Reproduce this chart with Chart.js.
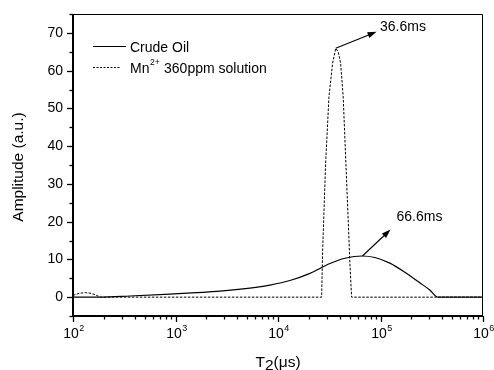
<!DOCTYPE html>
<html>
<head>
<meta charset="utf-8">
<script src="https://cdn.jsdelivr.net/npm/chart.js@4/dist/chart.umd.min.js"></script>
<style>
    html, body { margin: 0; padding: 0; background: #fff; }
    #wrap { width: 494px; height: 370px; }
</style>
</head>
<body>
<div id="wrap"><canvas id="t2Chart" width="494" height="370"></canvas></div>
<script>
// T2 distribution data
const crudeT2  = [100, 185, 361, 887, 2723, 5333, 8354, 13090, 20500, 32130, 44990, 66600, 88100, 123300, 172600, 241700, 302500, 364700, 1000000];
const crudeAmp = [0,   0,   0.3, 0.8, 1.6,  2.4,  3.2,  4.4,   6.3,   8.9,   10.3,  10.9,  10.5,  9.0,    6.6,    3.8,    1.9,    0,      0];

const mnT2  = [100, 115, 132, 151, 172, 185, 26660, 27260, 29150, 31400, 34110, 36600, 38670, 40820, 43270, 45960, 48850, 50280, 52240, 1000000];
const mnAmp = [0.5, 1.0, 1.2, 1.0, 0.4, 0,   0,     12.4,  35.4,  53,    62,    65.9,  65,    62,    53,    35.4,  17.7,  9,     0,     0];

const seriesNames = ["Crude Oil", "Mn", "2+", " 360ppm solution"];

const yTicks      = [0, 10, 20, 30, 40, 50, 60, 70];
const yMinorTicks = [-5, 5, 15, 25, 35, 45, 55, 65, 75];
const xExponents  = [2, 3, 4, 5, 6];

// peak annotations: label, peak point, arrow head, label position (data units)
const peakLabels = ["36.6ms", "66.6ms"];
const peakAt     = [[36600, 65.9], [66600, 10.9]];
const arrowTo    = [[91500, 70.3], [125300, 17.9]];
const labelAt    = [[99000, 71.5], [143300, 21.2]];

const FONT = "'Liberation Sans', Arial, sans-serif";

function toPoints(xs, ys) {
    return xs.map((x, i) => ({ x: x, y: ys[i] }));
}

function drawArrow(ctx, x0, y0, x1, y1) {
    const ang = Math.atan2(y1 - y0, x1 - x0);
    const len = 9, half = 3;
    ctx.beginPath();
    ctx.moveTo(x0, y0);
    ctx.lineTo(x1 - Math.cos(ang) * len * 0.8, y1 - Math.sin(ang) * len * 0.8);
    ctx.stroke();
    ctx.beginPath();
    ctx.moveTo(x1, y1);
    ctx.lineTo(x1 - Math.cos(ang) * len - Math.sin(ang) * half, y1 - Math.sin(ang) * len + Math.cos(ang) * half);
    ctx.lineTo(x1 - Math.cos(ang) * len + Math.sin(ang) * half, y1 - Math.sin(ang) * len - Math.cos(ang) * half);
    ctx.closePath();
    ctx.fill();
}

const originFrame = {
    id: "originFrame",
    afterDraw(chart) {
        const ctx = chart.ctx;
        const a = chart.chartArea;
        const xs = chart.scales.x, ys = chart.scales.y;
        ctx.save();
        ctx.strokeStyle = "#000";
        ctx.fillStyle = "#000";

        // frame
        ctx.lineWidth = 1;
        ctx.beginPath();
        ctx.moveTo(a.left, a.top + 0.5);
        ctx.lineTo(a.right - 0.5, a.top + 0.5);
        ctx.lineTo(a.right - 0.5, a.bottom);
        ctx.stroke();
        ctx.lineWidth = 2;
        ctx.beginPath();
        ctx.moveTo(a.left, a.top);
        ctx.lineTo(a.left, a.bottom);
        ctx.lineTo(a.right, a.bottom);
        ctx.stroke();

        // y ticks
        ctx.lineWidth = 1.3;
        ctx.font = "14px " + FONT;
        ctx.textAlign = "right";
        ctx.textBaseline = "middle";
        yTicks.forEach(v => {
            const py = Math.round(ys.getPixelForValue(v)) + 0.5;
            ctx.beginPath();
            ctx.moveTo(a.left - 6, py);
            ctx.lineTo(a.left, py);
            ctx.stroke();
            ctx.fillText(String(v), a.left - 10, py);
        });
        yMinorTicks.forEach(v => {
            const py = Math.round(ys.getPixelForValue(v)) + 0.5;
            ctx.beginPath();
            ctx.moveTo(a.left - 3.5, py);
            ctx.lineTo(a.left, py);
            ctx.stroke();
        });

        // x ticks (log decades + minors)
        xExponents.forEach(e => {
            const dec = Math.pow(10, e);
            const px = Math.round(xs.getPixelForValue(dec)) + 0.5;
            ctx.beginPath();
            ctx.moveTo(px, a.bottom);
            ctx.lineTo(px, a.bottom + 6);
            ctx.stroke();
            if (e < 6) {
                for (let m = 2; m <= 9; m++) {
                    const mx = Math.round(xs.getPixelForValue(m * dec)) + 0.5;
                    ctx.beginPath();
                    ctx.moveTo(mx, a.bottom);
                    ctx.lineTo(mx, a.bottom + 3.5);
                    ctx.stroke();
                }
            }
            // label 10^e
            ctx.textAlign = "left";
            ctx.textBaseline = "alphabetic";
            ctx.font = "14px " + FONT;
            const w1 = ctx.measureText("10").width;
            ctx.font = "9px " + FONT;
            const w2 = ctx.measureText(String(e)).width;
            const start = px - (w1 + w2) / 2;
            ctx.font = "14px " + FONT;
            ctx.fillText("10", start, a.bottom + 22);
            ctx.font = "9px " + FONT;
            ctx.fillText(String(e), start + w1 + 0.5, a.bottom + 15);
        });

        // axis titles
        ctx.font = "15.5px " + FONT;
        ctx.textAlign = "center";
        ctx.textBaseline = "middle";
        ctx.save();
        ctx.translate(19, (a.top + a.bottom) / 2 + 2);
        ctx.rotate(-Math.PI / 2);
        ctx.fillText("Amplitude (a.u.)", 0, 0);
        ctx.restore();

        ctx.textAlign = "left";
        ctx.textBaseline = "alphabetic";
        const tW = ctx.measureText("T").width;
        const sW = ctx.measureText("2").width;
        const rW = ctx.measureText("(\u03bcs)").width;
        const cx = (a.left + a.right) / 2;
        let tx = cx - (tW + sW + rW) / 2;
        const baseY = a.bottom + 51;
        ctx.fillText("T", tx, baseY);
        ctx.fillText("2", tx + tW, baseY + 3);
        ctx.fillText("(\u03bcs)", tx + tW + sW, baseY);

        // legend
        ctx.font = "14px " + FONT;
        const lx = a.left + 20;
        ctx.lineWidth = 1.2;
        ctx.setLineDash([]);
        ctx.beginPath();
        ctx.moveTo(lx, a.top + 32.5);
        ctx.lineTo(lx + 33, a.top + 32.5);
        ctx.stroke();
        ctx.fillText(seriesNames[0], lx + 37, a.top + 38);

        ctx.lineWidth = 1;
        ctx.setLineDash([2, 1.5]);
        ctx.beginPath();
        ctx.moveTo(lx, a.top + 53.5);
        ctx.lineTo(lx + 27, a.top + 53.5);
        ctx.stroke();
        ctx.setLineDash([]);
        const mx0 = lx + 37;
        ctx.fillText(seriesNames[1], mx0, a.top + 58.5);
        const mnW = ctx.measureText(seriesNames[1]).width;
        ctx.font = "8.5px " + FONT;
        ctx.fillText(seriesNames[2], mx0 + mnW + 0.5, a.top + 51);
        const supW = ctx.measureText(seriesNames[2]).width;
        ctx.font = "14px " + FONT;
        ctx.fillText(seriesNames[3], mx0 + mnW + supW + 1, a.top + 58.5);

        // peak annotations
        ctx.lineWidth = 1.1;
        peakLabels.forEach((txt, i) => {
            const x0 = xs.getPixelForValue(peakAt[i][0]);
            const y0 = ys.getPixelForValue(peakAt[i][1]);
            const x1 = xs.getPixelForValue(arrowTo[i][0]);
            const y1 = ys.getPixelForValue(arrowTo[i][1]);
            drawArrow(ctx, x0, y0, x1, y1);
            ctx.font = "14px " + FONT;
            ctx.textAlign = "left";
            ctx.textBaseline = "middle";
            ctx.fillText(txt, xs.getPixelForValue(labelAt[i][0]), ys.getPixelForValue(labelAt[i][1]));
        });

        ctx.restore();
    }
};

new Chart(document.getElementById("t2Chart"), {
    type: "line",
    data: {
        datasets: [
            {
                label: "Crude Oil",
                data: toPoints(crudeT2, crudeAmp),
                borderColor: "#000",
                borderWidth: 1.2,
                pointRadius: 0,
                cubicInterpolationMode: "monotone",
                fill: false
            },
            {
                label: "Mn2+ 360ppm solution",
                data: toPoints(mnT2, mnAmp),
                borderColor: "#000",
                borderWidth: 1,
                borderDash: [2.5, 1.5],
                pointRadius: 0,
                tension: 0,
                fill: false
            }
        ]
    },
    options: {
        responsive: false,
        animation: false,
        events: [],
        layout: { padding: { left: 73, right: 11, top: 14, bottom: 54 } },
        plugins: { legend: { display: false }, tooltip: { enabled: false } },
        scales: {
            x: { type: "logarithmic", min: 100, max: 1000000, display: false },
            y: { type: "linear", min: -5, max: 75, display: false }
        }
    },
    plugins: [originFrame]
});
</script>
</body>
</html>
